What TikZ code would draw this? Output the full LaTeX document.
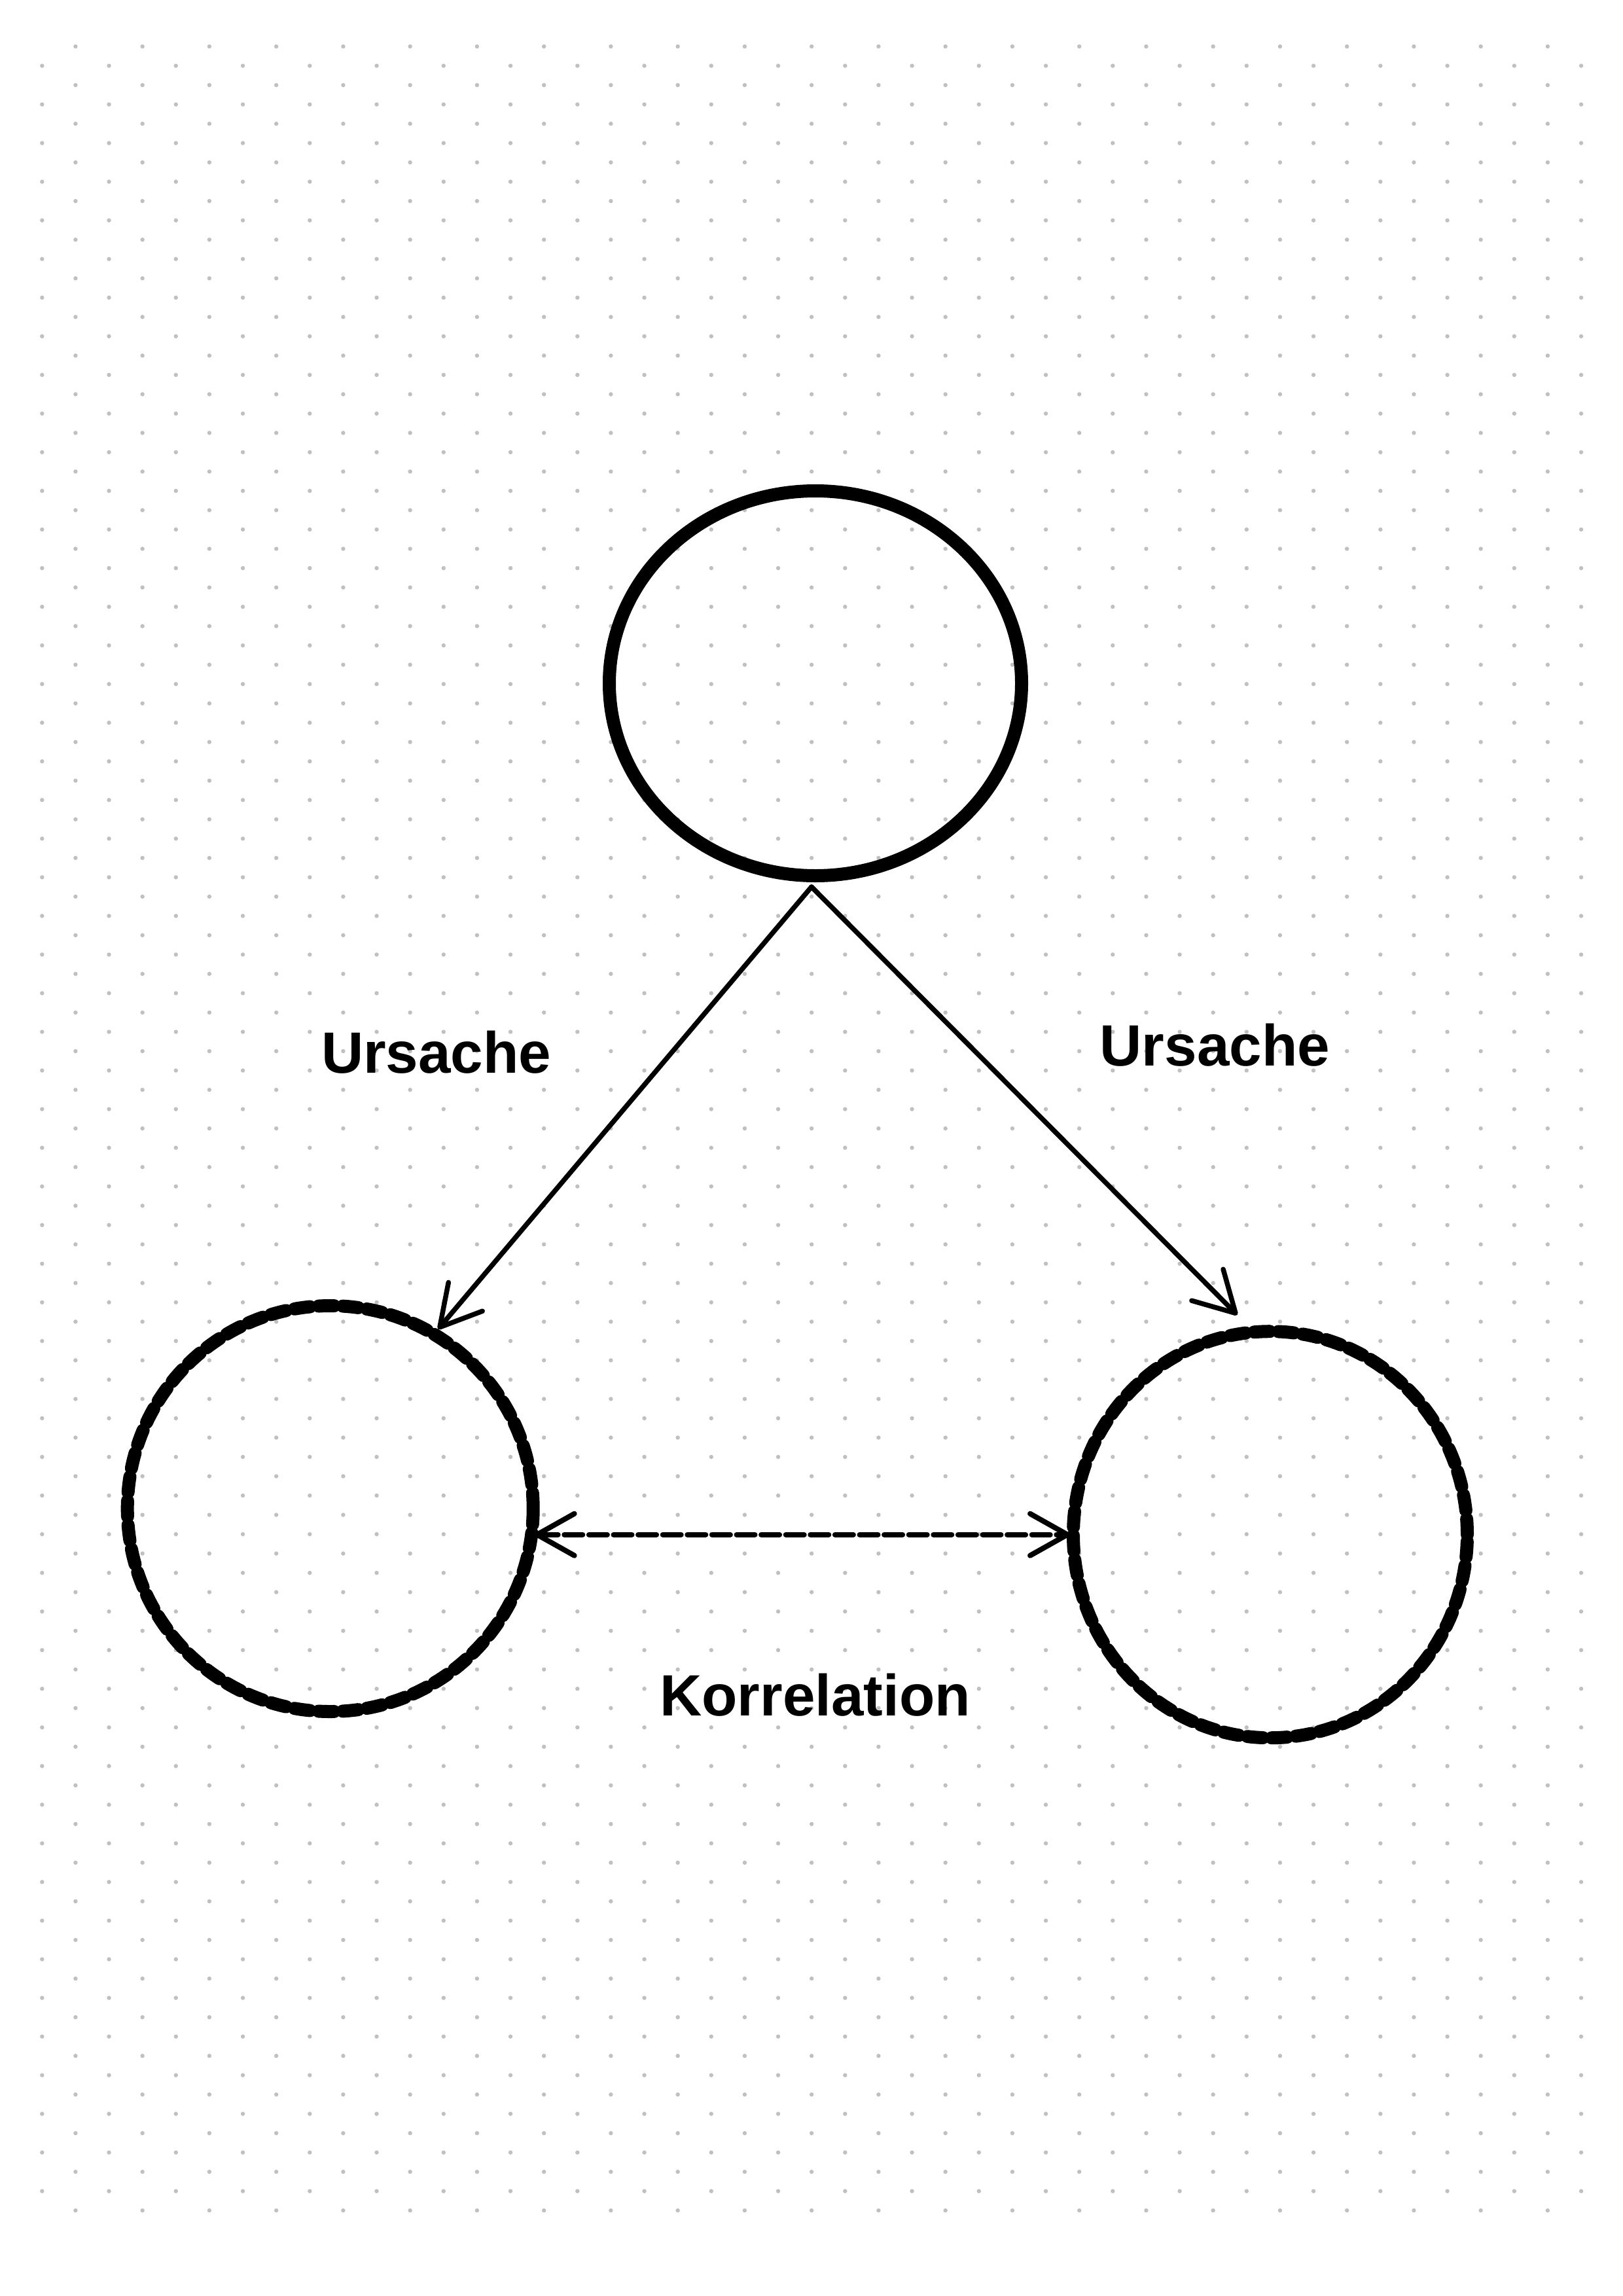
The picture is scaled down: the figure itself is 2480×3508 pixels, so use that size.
\documentclass[tikz,border=0pt]{standalone}
\usepackage{fontspec}
\setmainfont{Liberation Sans}
\usetikzlibrary{shapes.geometric,arrows.meta,calc}
\definecolor{dotc}{RGB}{192,192,192}
\begin{document}
\begin{tikzpicture}[x=1pt,y=-1pt,
  solidcirc/.style={draw=black,line width=20pt,inner sep=0pt},
  sketchcirc/.style={draw=black,line width=20pt,inner sep=0pt,dash pattern=on 24pt off 13pt,line cap=round},
  cause/.style={draw=black,line width=7.5pt,line cap=round,-{Straight Barb[length=61pt,width=68pt,round]}},
  corr/.style={draw=black,line width=8pt,line cap=round,dash pattern=on 28pt off 9.6pt,{Straight Barb[length=57pt,width=64pt,round]}-{Straight Barb[length=57pt,width=64pt,round]}},
  lab/.style={font=\fontsize{89}{100}\selectfont\bfseries,inner sep=0pt,anchor=base}]
\fill[white] (0,0) rectangle (2480,3508);
\useasboundingbox (0,0) rectangle (2480,3508);
% dot grid
\foreach \i in {0,2,...,112}{
  \foreach \k in {0,...,22}{
    \fill[dotc] (115.4+102.25*\k, 71+29.52*\i) circle[radius=3.2pt];
  }
}
\foreach \i in {1,3,...,111}{
  \foreach \k in {0,...,23}{
    \fill[dotc] (64.3+102.25*\k, 71+29.52*\i) circle[radius=3.2pt];
  }
}
% nodes
\node[solidcirc,ellipse,minimum width=630pt,minimum height=588pt] (top) at (1246,1044) {};
\node[sketchcirc,circle,minimum size=620pt] (left) at (504.7,2305) {};
\node[sketchcirc,ellipse,minimum width=602pt,minimum height=621pt] (right) at (1941,2344.7) {};
\coordinate (apex) at ([xshift=-6pt,yshift=-7pt]top.south);
% connectors
\draw[cause] (apex) -- (left.59);
\draw[cause,shorten >=24pt] (apex) -- (right.96);
\draw[corr] ([xshift=-8pt]left.east |- right.west) -- ([xshift=5pt]right.west);
% labels
\node[lab] (u1) at (666.7,1639) {Ursache};
\node[lab] (u2) at (1856.3,1628.3) {Ursache};
\node[lab] (k) at (1245.5,2621.7) {Korrelation};
\end{tikzpicture}
\end{document}
